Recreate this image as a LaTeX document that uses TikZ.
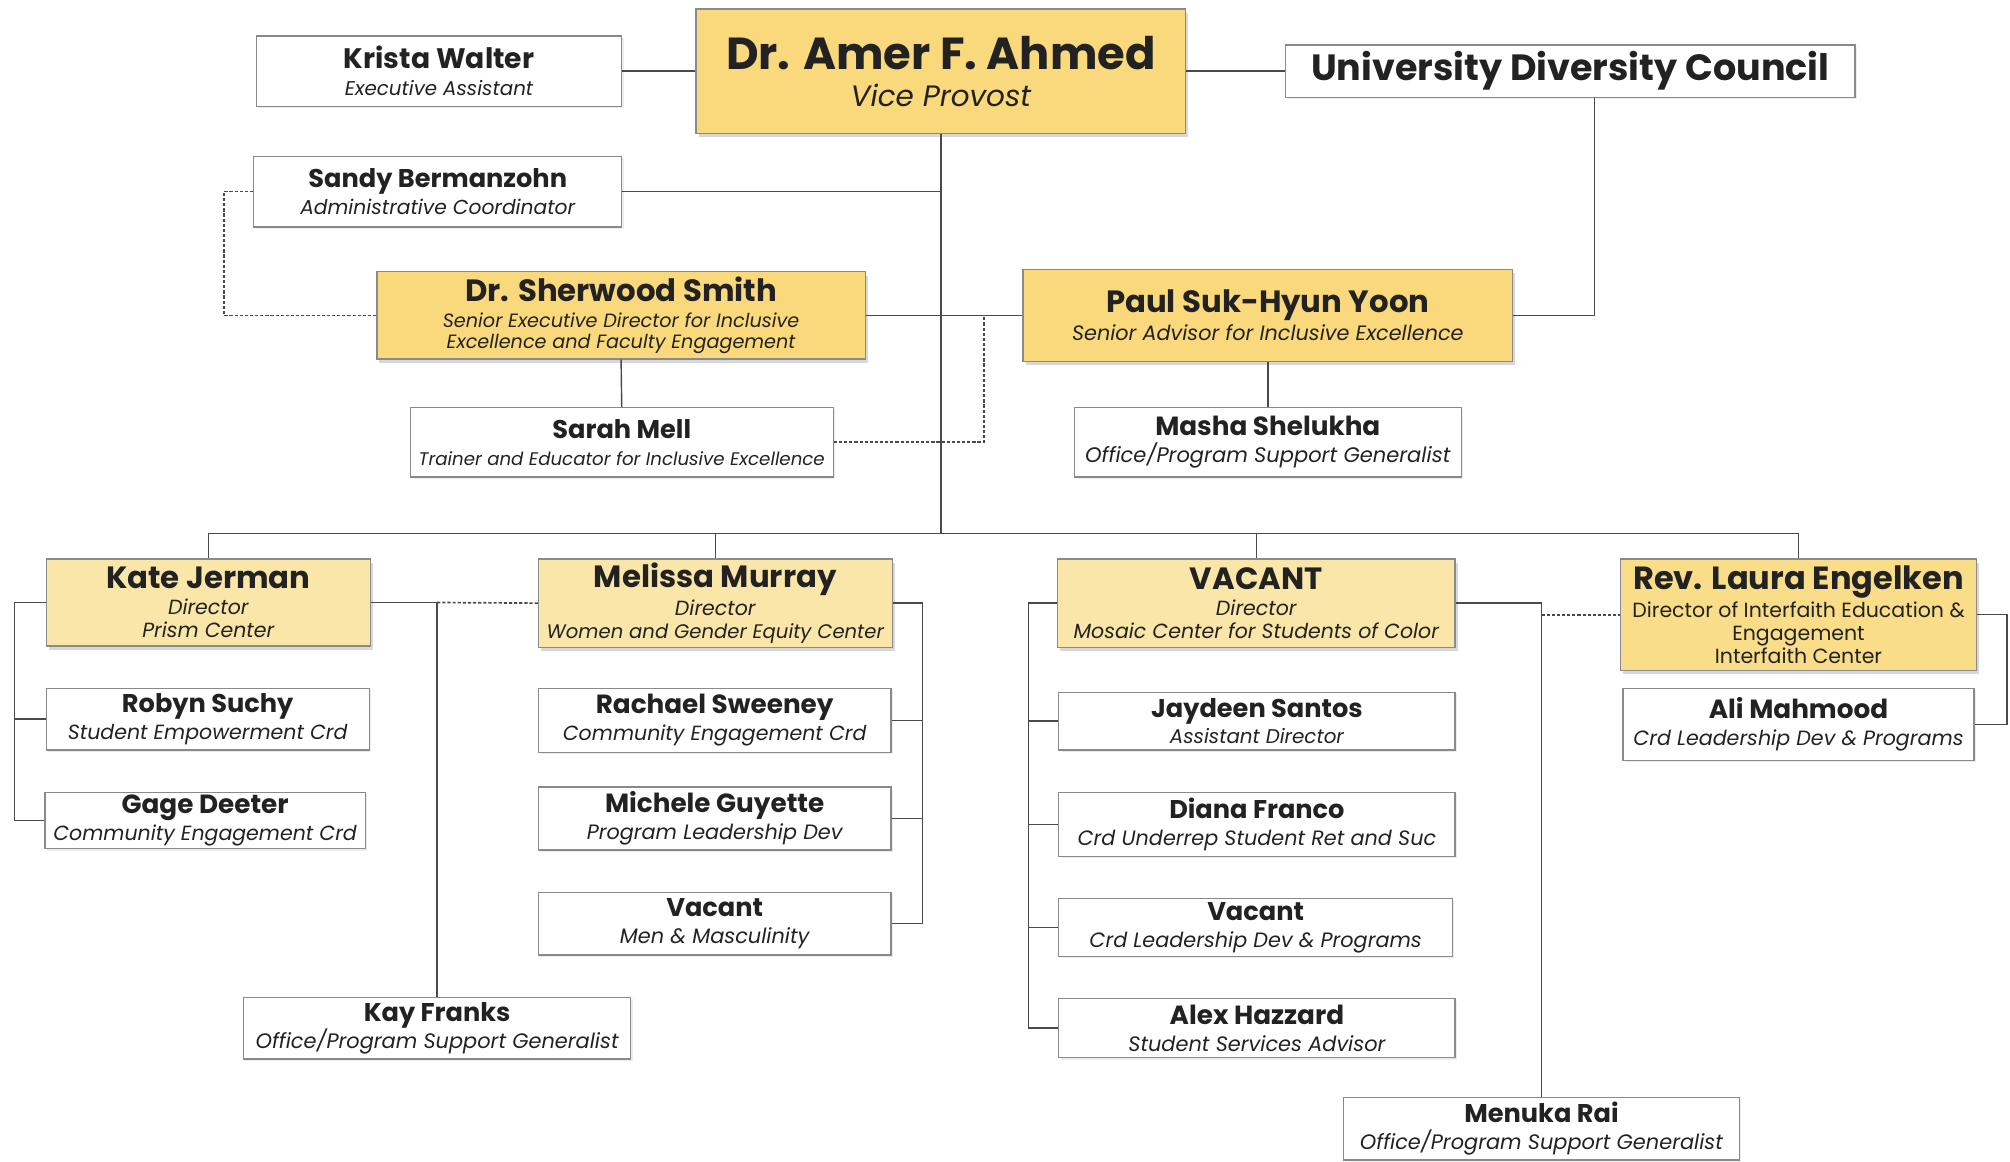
\documentclass[tikz,border=0pt]{standalone}
\usepackage{fontspec}
\setmainfont{Poppins}
\usetikzlibrary{shadows,calc}
\definecolor{yboxc}{HTML}{F9D97B}
\definecolor{ylight}{HTML}{FAE6A8}
\definecolor{ymid}{HTML}{F9DD88}
\definecolor{lin}{HTML}{4A4A4A}
\definecolor{bord}{HTML}{8A8A8A}
\definecolor{txt}{HTML}{222222}
\newcommand\namt[2]{{\fontsize{#1}{#1}\selectfont\bfseries #2}}
\newcommand\subt[2]{{\fontsize{#1}{#1}\selectfont\itshape #2}}
\newcommand\upt[2]{{\fontsize{#1}{#1}\selectfont #2}}
\tikzset{
 base/.style={rectangle, draw=bord, line width=1pt, inner sep=0pt, align=center, text=txt, font=\fontsize{16}{21}\selectfont},
 wbox/.style={base, fill=white, drop shadow={shadow xshift=1.5pt, shadow yshift=-1.5pt, opacity=0.15}},
 ybox/.style={base, fill=yboxc, drop shadow={shadow xshift=2pt, shadow yshift=-3pt, opacity=0.3}},
 ylbox/.style={base, fill=ylight, drop shadow={shadow xshift=2pt, shadow yshift=-3pt, opacity=0.3}},
 ymbox/.style={base, fill=ymid, drop shadow={shadow xshift=2pt, shadow yshift=-3pt, opacity=0.3}},
 conn/.style={draw=lin, line width=1.1pt},
 dotconn/.style={draw=lin, line width=1.3pt, dash pattern=on 2.5pt off 1.5pt},
}
\begin{document}
\begin{tikzpicture}[x=1pt,y=-1pt]
\useasboundingbox (0,0) rectangle (1568,906);
\fill[white] (0,0) rectangle (1568,906);
% top level
\node[ybox, minimum width=382pt, minimum height=97pt, font=\fontsize{20}{29}\selectfont] (ahmed) at (734,55.5) {\namt{35}{Dr. Amer F. Ahmed}\\\subt{23}{Vice Provost}};
\node[wbox, minimum width=285pt, minimum height=55pt] (kw) at (342.5,55.5) {\namt{22}{Krista Walter}\\\subt{15.5}{Executive Assistant}};
\node[wbox, minimum width=444pt, minimum height=41pt] (udc) at (1225,55.5) {\namt{28.5}{University Diversity Council}};
\node[wbox, minimum width=287pt, minimum height=55pt] (sandy) at (341.5,149.5) {\namt{20}{Sandy Bermanzohn}\\\subt{15.8}{Administrative Coordinator}};
\node[ybox, minimum width=381pt, minimum height=68pt, font=\fontsize{15}{16.5}\selectfont] (sherwood) at (484.5,246) {\namt{24}{Dr. Sherwood Smith}\\[4pt]\subt{15}{Senior Executive Director for Inclusive}\\\subt{15}{Excellence and Faculty Engagement}};
\node[ybox, minimum width=382pt, minimum height=72pt, font=\fontsize{16}{22}\selectfont] (paul) at (989,246) {\namt{24}{Paul Suk-Hyun Yoon}\\\subt{16.2}{Senior Advisor for Inclusive Excellence}};
\node[wbox, minimum width=330pt, minimum height=54pt] (sarah) at (485,345) {\namt{20}{Sarah Mell}\\\subt{14.2}{Trainer and Educator for Inclusive Excellence}};
\node[wbox, minimum width=302pt, minimum height=54pt] (masha) at (989,345) {\namt{20.5}{Masha Shelukha}\\\subt{16.4}{Office/Program Support Generalist}};
% directors
\node[ylbox, minimum width=253pt, minimum height=68pt, font=\fontsize{16}{18}\selectfont] (kate) at (162.5,470) {\namt{24}{Kate Jerman}\\[2pt]\subt{16}{Director}\\\subt{16}{Prism Center}};
\node[ylbox, minimum width=276pt, minimum height=69pt, font=\fontsize{16}{18}\selectfont] (melissa) at (558,470.5) {\namt{24}{Melissa Murray}\\[2pt]\subt{16}{Director}\\\subt{15.3}{Women and Gender Equity Center}};
\node[ylbox, minimum width=310pt, minimum height=69pt, font=\fontsize{16}{18}\selectfont] (vacdir) at (980,470.5) {\namt{24}{VACANT}\\[2pt]\subt{16}{Director}\\\subt{16}{Mosaic Center for Students of Color}};
\node[ymbox, minimum width=278pt, minimum height=87pt, font=\fontsize{16}{18}\selectfont] (laura) at (1403,479.5) {\namt{25}{Rev. Laura Engelken}\\[2pt]\upt{16}{Director of Interfaith Education \&}\\\upt{16}{Engagement}\\\upt{16}{Interfaith Center}};
% staff
\node[wbox, minimum width=252pt, minimum height=48pt] (robyn) at (162,561) {\namt{20}{Robyn Suchy}\\\subt{16}{Student Empowerment Crd}};
\node[wbox, minimum width=250pt, minimum height=44pt] (gage) at (160,640) {\namt{20.5}{Gage Deeter}\\\subt{16}{Community Engagement Crd}};
\node[wbox, minimum width=275pt, minimum height=50pt] (rachael) at (557.5,562) {\namt{20.5}{Rachael Sweeney}\\\subt{16}{Community Engagement Crd}};
\node[wbox, minimum width=275pt, minimum height=49pt] (michele) at (557.5,638.5) {\namt{20.5}{Michele Guyette}\\\subt{16.2}{Program Leadership Dev}};
\node[wbox, minimum width=275pt, minimum height=49pt] (vacmen) at (557.5,720.5) {\namt{20}{Vacant}\\\subt{16.3}{Men \& Masculinity}};
\node[wbox, minimum width=302pt, minimum height=48pt] (kay) at (341,802) {\namt{20}{Kay Franks}\\\subt{16.3}{Office/Program Support Generalist}};
\node[wbox, minimum width=309pt, minimum height=45pt] (jaydeen) at (980.5,562.5) {\namt{20}{Jaydeen Santos}\\\subt{15.5}{Assistant Director}};
\node[wbox, minimum width=309pt, minimum height=50pt] (diana) at (980.5,643) {\namt{20}{Diana Franco}\\\subt{16.2}{Crd Underrep Student Ret and Suc}};
\node[wbox, minimum width=307pt, minimum height=45pt] (vaclead) at (979.5,723.5) {\namt{20}{Vacant}\\\subt{16.2}{Crd Leadership Dev \& Programs}};
\node[wbox, minimum width=309pt, minimum height=46pt] (alex) at (980.5,802) {\namt{20.5}{Alex Hazzard}\\\subt{16.3}{Student Services Advisor}};
\node[wbox, minimum width=309pt, minimum height=49pt] (menuka) at (1202.5,880.5) {\namt{20}{Menuka Rai}\\\subt{16.3}{Office/Program Support Generalist}};
\node[wbox, minimum width=274pt, minimum height=56pt] (ali) at (1403,565) {\namt{20.5}{Ali Mahmood}\\\subt{16.1}{Crd Leadership Dev \& Programs}};
% connectors
\coordinate (bus) at (733,416);
\draw[conn] (kw.east) -- (ahmed.west);
\draw[conn] (ahmed.east) -- (udc.west);
\draw[conn] ([xshift=19pt]udc.south) |- (paul.east);
\draw[conn] (ahmed.south) |- (sandy.east);
\draw[conn] (ahmed.south) -- (ahmed.south |- bus);
\draw[conn] (sherwood.east) -- (paul.west);
\draw[dotconn] (sandy.west) -- ++(-23,0) |- (sherwood.west);
\draw[conn] (sherwood.south) -- (sarah.north);
\draw[conn] (paul.south) -- (masha.north);
\draw[dotconn] (sarah.east) -| ([xshift=-30pt]paul.west);
\draw[conn] (kate.north |- bus) -- (laura.north |- bus);
\draw[conn] (kate.north |- bus) -- (kate.north);
\draw[conn] (melissa.north |- bus) -- (melissa.north);
\draw[conn] (vacdir.north |- bus) -- (vacdir.north);
\draw[conn] (laura.north |- bus) -- (laura.north);
% Kate
\draw[conn] (kate.west) -- ++(-24,0) coordinate (kl) |- (gage.west);
\draw[conn] (kl |- robyn.west) -- (robyn.west);
\draw[conn] (kay.north) |- (kate.east);
\draw[dotconn] (kay.north |- kate.east) -- (melissa.west);
% Melissa
\draw[conn] (melissa.east) -- ++(23,0) coordinate (mr) |- (vacmen.east);
\draw[conn] (mr |- rachael.east) -- (rachael.east);
\draw[conn] (mr |- michele.east) -- (michele.east);
% VACANT
\draw[conn] (vacdir.west) -- ++(-22,0) coordinate (vl) |- (alex.west);
\draw[conn] (vl |- jaydeen.west) -- (jaydeen.west);
\draw[conn] (vl |- diana.west) -- (diana.west);
\draw[conn] (vl |- vaclead.west) -- (vaclead.west);
\draw[conn] (menuka.north) |- (vacdir.east);
\draw[dotconn] (menuka.north |- laura.west) -- (laura.west);
% Laura
\draw[conn] (laura.east) -- ++(23,0) |- (ali.east);
\end{tikzpicture}
\end{document}
